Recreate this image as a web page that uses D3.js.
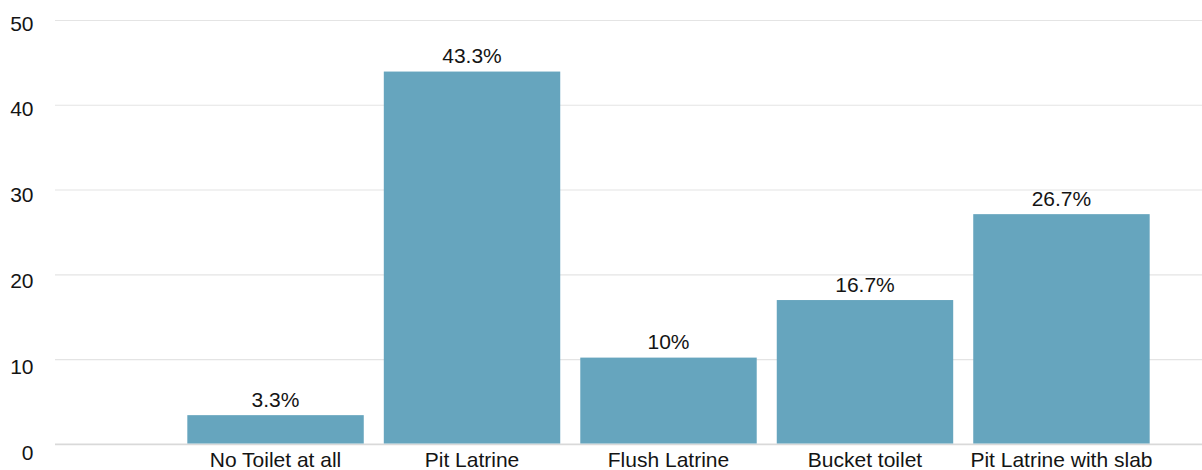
<!DOCTYPE html>
<html>
<head>
<meta charset="utf-8">
<script src="https://cdn.jsdelivr.net/npm/d3@7"></script>
<style>
  html, body { margin: 0; padding: 0; background: #fff; }
  svg { display: block; }
  text { font-family: "Liberation Sans", Arial, Helvetica, sans-serif; fill: #141414; }
</style>
</head>
<body>
<svg id="chart" width="1202" height="470"></svg>
<script>
// Toilet facility types and share of households (%)
const categories = ["No Toilet at all", "Pit Latrine", "Flush Latrine", "Bucket toilet", "Pit Latrine with slab"];
const shares = [3.3, 43.3, 10, 16.7, 26.7];
const valueLabels = ["3.3%", "43.3%", "10%", "16.7%", "26.7%"];
const tickValues = [0, 10, 20, 30, 40, 50];

const W = 1202, H = 470;
const svg = d3.select("#chart");

// Scales
const x = d3.scaleBand()
  .domain(categories)
  .range([177.3, 1159.7])
  .paddingInner(0.102)
  .paddingOuter(0.051);

const y = d3.scaleLinear().domain([0, 50]).range([443.5, 14]);
// Horizontal rules sit on a slightly tighter grid
const yGrid = d3.scaleLinear().domain([0, 50]).range([444.3, 20.5]);

// Gridlines
svg.append("g")
  .selectAll("line")
  .data(tickValues)
  .join("line")
  .attr("x1", 55)
  .attr("x2", W)
  .attr("y1", d => yGrid(d))
  .attr("y2", d => yGrid(d))
  .attr("stroke", d => d === 0 ? "#d9d9d9" : "#e4e4e4")
  .attr("stroke-width", d => d === 0 ? 1.8 : 1.2);

// Y tick labels
svg.append("g")
  .selectAll("text")
  .data(tickValues)
  .join("text")
  .attr("x", 33.5)
  .attr("y", d => y(d) + 16.5)
  .attr("text-anchor", "end")
  .style("font-size", "21px")
  .text(d => d);

// Bars
svg.append("g")
  .selectAll("rect")
  .data(shares)
  .join("rect")
  .attr("x", (d, i) => x(categories[i]))
  .attr("width", x.bandwidth())
  .attr("y", d => y(d))
  .attr("height", d => y(0) - y(d))
  .attr("fill", "#66a5be");

// Value labels above bars
svg.append("g")
  .selectAll("text")
  .data(shares)
  .join("text")
  .attr("x", (d, i) => x(categories[i]) + x.bandwidth() / 2)
  .attr("y", d => y(d) - 8.5)
  .attr("text-anchor", "middle")
  .style("font-size", "21px")
  .text((d, i) => valueLabels[i]);

// Category labels
svg.append("g")
  .selectAll("text")
  .data(categories)
  .join("text")
  .attr("x", d => x(d) + x.bandwidth() / 2)
  .attr("y", 467.3)
  .attr("text-anchor", "middle")
  .style("font-size", "21px")
  .text(d => d);
</script>
</body>
</html>
